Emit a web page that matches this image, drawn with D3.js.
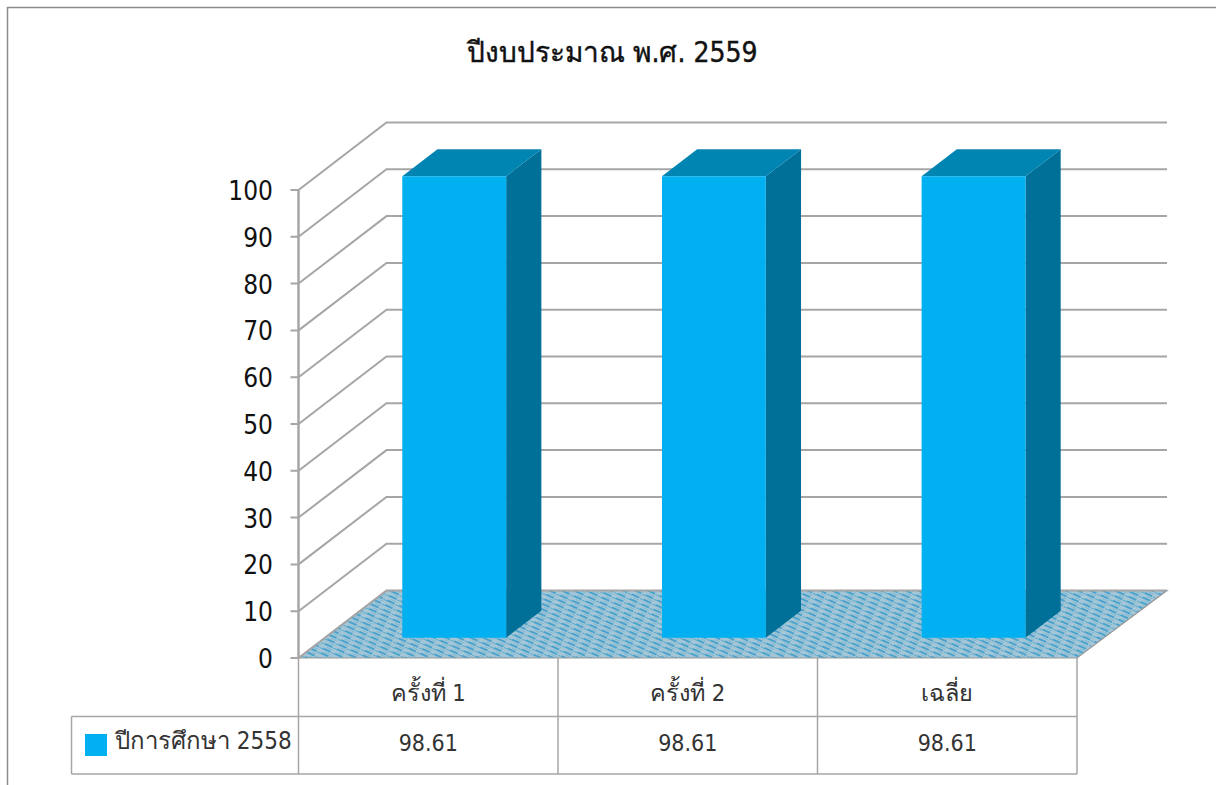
<!DOCTYPE html>
<html><head><meta charset="utf-8">
<script src="https://cdn.jsdelivr.net/npm/d3@7"></script>
<style>html,body{margin:0;padding:0;background:#fff;overflow:hidden}svg{display:block}text{font-family:"DejaVu Sans Condensed","Noto Sans","Liberation Sans",sans-serif;fill:#111}</style>
</head><body><svg id="c" width="1216" height="785"></svg>
<script>
const title = "ปีงบประมาณ พ.ศ. 2559";
const categories = ["ครั้งที่ 1","ครั้งที่ 2","เฉลี่ย"];
const seriesName = "ปีการศึกษา 2558";
const values = [98.61,98.61,98.61];
const valueLabels = ["98.61","98.61","98.61"];
const ticks = [0,10,20,30,40,50,60,70,80,90,100];

const svg = d3.select("#c");
const X0=298.5,X1=1077,Y0=658,Y100=190,DX=88,DXR=90,DY=-67.5;
const x = d3.scaleBand().domain(categories).range([298,1077]).paddingInner(0.6).paddingOuter(0.3);
const cell = d3.scaleBand().domain(categories).range([X0,X1]);
const y = d3.scaleLinear().domain([0,100]).range([Y0,Y100]);
const path = d3.line();
const grey="#a6a6a6";

const defs = svg.append("defs");
const pat = defs.append("pattern").attr("id","floor").attr("patternUnits","userSpaceOnUse")
  .attr("width",13).attr("height",5).attr("patternTransform","rotate(24)");
pat.append("rect").attr("width",13).attr("height",5).attr("fill","#a5c6d6");
pat.append("rect").attr("x",0).attr("y",0).attr("width",8).attr("height",2).attr("fill","#4aa3cc");
pat.append("rect").attr("x",9).attr("y",1).attr("width",4).attr("height",1).attr("fill","#5aaccf");
pat.append("rect").attr("x",3).attr("y",3).attr("width",6).attr("height",1).attr("fill","#82b9d2");
const blur = defs.append("filter").attr("id","soft");
blur.append("feGaussianBlur").attr("stdDeviation",0.6);

// outer frame
svg.append("path").attr("d",path([[7.5,785],[7.5,7.5],[1216,7.5]])).attr("fill","none").attr("stroke","#8c8c8c").attr("stroke-width",1.5);

// floor
const floorPts=[[X0,Y0],[X0+DX,Y0+DY],[X1+DXR,Y0+DY],[X1,Y0]];
svg.append("path").attr("d",path(floorPts)+"Z").attr("fill","url(#floor)").attr("filter","url(#soft)");
svg.append("path").attr("d",path(floorPts)+"Z").attr("fill","none").attr("stroke","#9a9a9a").attr("stroke-width",1.2);

// walls
svg.append("g").selectAll("path").data(ticks).join("path")
  .attr("d",t=>path([[X0-8,y(t)],[X0,y(t)],[X0+DX,y(t)+DY],[X1+DXR,y(t)+DY]]))
  .attr("fill","none").attr("stroke",grey).attr("stroke-width",2);
svg.append("path").attr("d",path([[X0,Y0],[X0,Y100]])).attr("stroke",grey).attr("stroke-width",2.5).attr("fill","none");

// axis labels
svg.append("g").selectAll("text").data(ticks).join("text")
  .attr("x",273).attr("y",t=>y(t)+10).attr("text-anchor","end")
  .attr("font-size",26).text(t=>t);

// bars
const fA=0.3,fB=0.7;
const bars = svg.append("g").selectAll("g").data(values).join("g");
const base = y(0)+DY*fA;
const px = (i,v)=>{const l=x(categories[i])+DX*fA,r=l+x.bandwidth(),t=base-(y(0)-y(v));return {l,r,t};};
const ddx=DX*(fB-fA),ddy=DY*(fB-fA);
bars.append("path").attr("fill","#007099")
  .attr("d",(v,i)=>{const p=px(i,v);return path([[p.r,p.t],[p.r+ddx,p.t+ddy],[p.r+ddx,base+ddy],[p.r,base]])+"Z";});
bars.append("path").attr("fill","#0085b3")
  .attr("d",(v,i)=>{const p=px(i,v);return path([[p.l,p.t],[p.l+ddx,p.t+ddy],[p.r+ddx,p.t+ddy],[p.r,p.t]])+"Z";});
bars.append("rect").attr("fill","#00b0f0")
  .attr("x",(v,i)=>px(i,v).l).attr("y",(v,i)=>px(i,v).t).attr("width",x.bandwidth()).attr("height",(v,i)=>base-px(i,v).t);

// data table
const R1=716.5,R2=774,LX=71.5;
const tbl=svg.append("g").attr("stroke",grey).attr("stroke-width",1.5).attr("fill","none");
tbl.append("path").attr("d",path([[X0,Y0],[X0,R2]]));
tbl.append("path").attr("d",path([[LX,R1],[X1,R1]]));
tbl.append("path").attr("d",path([[LX,R2],[X1,R2]]));
tbl.append("path").attr("d",path([[LX,R1],[LX,R2]]));
tbl.selectAll("path.v").data(categories).join("path").attr("class","v")
  .attr("d",c=>path([[cell(c)+cell.bandwidth(),Y0],[cell(c)+cell.bandwidth(),R2]]));

svg.append("g").selectAll("text").data(categories).join("text")
  .attr("x",c=>cell(c)+cell.bandwidth()/2).attr("y",701).attr("text-anchor","middle")
  .attr("font-size",23.5).attr("style","fill:#333").text(c=>c);
svg.append("g").selectAll("text").data(valueLabels).join("text")
  .attr("x",(d,i)=>cell(categories[i])+cell.bandwidth()/2).attr("y",751).attr("text-anchor","middle")
  .attr("font-size",23).attr("style","fill:#333").text(d=>d);
svg.append("rect").attr("x",85).attr("y",734).attr("width",22).attr("height",22).attr("fill","#00b0f0");
svg.append("text").attr("x",115).attr("y",749).attr("font-size",24).attr("style","fill:#333").text(seriesName);

// title
svg.append("text").attr("x",612.5).attr("y",62).attr("text-anchor","middle").attr("font-size",28).attr("font-weight",500).attr("stroke","#111").attr("stroke-width",0.4).text(title);
</script></body></html>
